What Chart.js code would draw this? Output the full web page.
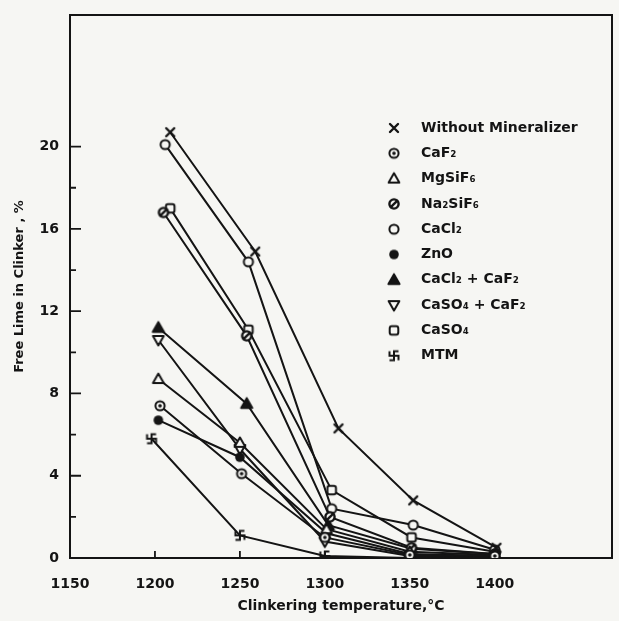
<!DOCTYPE html>
<html lang="en">
<head>
    <meta charset="UTF-8">
    <title>Free lime vs clinkering temperature</title>
    <script src="https://cdn.jsdelivr.net/npm/chart.js"></script>
    <style>
        body { margin: 0; background: #f6f6f3; }
    </style>
</head>
<body>
    <canvas id="limeChart" width="619" height="621"></canvas>

    <script>
        // values (temperature in C, free lime in %)
        const yTicks = [0, 4, 8, 12, 16, 20];
        const xTicks = [1150, 1200, 1250, 1300, 1350, 1400];

        const tWithout = [1209, 1259, 1308, 1352, 1401];
        const limeWithout = [20.7, 14.9, 6.3, 2.8, 0.5];

        const tCaF2 = [1203, 1251, 1300, 1350, 1400];
        const limeCaF2 = [7.4, 4.1, 1.0, 0.15, 0.1];

        const tMgSiF6 = [1202, 1250, 1301, 1350, 1400];
        const limeMgSiF6 = [8.7, 5.6, 1.4, 0.3, 0.15];

        const tNa2SiF6 = [1205, 1254, 1303, 1351, 1400];
        const limeNa2SiF6 = [16.8, 10.8, 2.0, 0.5, 0.2];

        const tCaCl2 = [1206, 1255, 1304, 1352, 1400];
        const limeCaCl2 = [20.1, 14.4, 2.4, 1.6, 0.4];

        const tZnO = [1202, 1250, 1301, 1350, 1400];
        const limeZnO = [6.7, 4.9, 1.2, 0.2, 0.1];

        const tCaCl2CaF2 = [1202, 1254, 1302, 1351, 1400];
        const limeCaCl2CaF2 = [11.2, 7.5, 1.6, 0.45, 0.2];

        const tCaSO4CaF2 = [1202, 1250, 1300, 1350, 1400];
        const limeCaSO4CaF2 = [10.6, 5.3, 0.8, 0.1, 0.05];

        const tCaSO4 = [1209, 1255, 1304, 1351, 1400];
        const limeCaSO4 = [17.0, 11.1, 3.3, 1.0, 0.3];

        const tMTM = [1198, 1250, 1300, 1350, 1400];
        const limeMTM = [5.8, 1.1, 0.1, 0.0, 0.0];

        const seriesNames = ['Without Mineralizer', 'CaF₂', 'MgSiF₆', 'Na₂SiF₆', 'CaCl₂', 'ZnO',
            'CaCl₂ + CaF₂', 'CaSO₄ + CaF₂', 'CaSO₄', 'MTM'];
        const seriesMarkers = ['cross', 'dotcircle', 'tri', 'slashcircle', 'circle', 'dot',
            'filltri', 'invtri', 'square', 'mtm'];
        const seriesTemps = [tWithout, tCaF2, tMgSiF6, tNa2SiF6, tCaCl2, tZnO, tCaCl2CaF2, tCaSO4CaF2, tCaSO4, tMTM];
        const seriesLime = [limeWithout, limeCaF2, limeMgSiF6, limeNa2SiF6, limeCaCl2, limeZnO,
            limeCaCl2CaF2, limeCaSO4CaF2, limeCaSO4, limeMTM];

        const ink = '#141414';
        const paper = '#f6f6f3';
        const font = 'DejaVu Sans';

        // small canvases used as point styles (and in the legend)
        const makeMarker = (kind) => {
            const c = document.createElement('canvas');
            c.width = 16; c.height = 16;
            const g = c.getContext('2d');
            g.translate(8, 8);
            g.strokeStyle = ink; g.fillStyle = paper; g.lineWidth = 2;
            g.lineCap = 'round'; g.lineJoin = 'round';
            const circle = (r) => { g.beginPath(); g.arc(0, 0, r, 0, Math.PI * 2); };
            const poly = (pts) => { g.beginPath(); pts.forEach((p, i) => i ? g.lineTo(p[0], p[1]) : g.moveTo(p[0], p[1])); g.closePath(); };
            switch (kind) {
                case 'cross':
                    g.lineWidth = 2.4;
                    g.beginPath(); g.moveTo(-4, -4); g.lineTo(4, 4); g.moveTo(4, -4); g.lineTo(-4, 4); g.stroke();
                    break;
                case 'dotcircle':
                    circle(4.6); g.fill(); g.stroke();
                    g.fillStyle = ink; circle(1.8); g.fill();
                    break;
                case 'slashcircle':
                    circle(4.6); g.fill(); g.lineWidth = 2.4; g.stroke();
                    g.beginPath(); g.moveTo(-3.2, 3.2); g.lineTo(3.2, -3.2); g.stroke();
                    break;
                case 'circle':
                    circle(4.6); g.fill(); g.stroke();
                    break;
                case 'dot':
                    g.fillStyle = ink; circle(4.8); g.fill();
                    break;
                case 'tri':
                    poly([[0, -5.4], [5.4, 4], [-5.4, 4]]); g.fill(); g.stroke();
                    break;
                case 'filltri':
                    g.fillStyle = ink; poly([[0, -5.6], [5.6, 4.2], [-5.6, 4.2]]); g.fill(); g.stroke();
                    break;
                case 'invtri':
                    poly([[0, 5.4], [5.4, -4], [-5.4, -4]]); g.fill(); g.stroke();
                    break;
                case 'square':
                    g.beginPath(); g.roundRect(-4.3, -4.3, 8.6, 8.6, 2.2); g.fill(); g.stroke();
                    break;
                case 'mtm':
                    g.lineWidth = 2; g.lineCap = 'butt';
                    g.beginPath();
                    g.moveTo(0, -4.5); g.lineTo(0, 4.5); g.moveTo(-4.5, 0); g.lineTo(4.5, 0);
                    g.moveTo(-1, -4.5); g.lineTo(4.5, -4.5);
                    g.moveTo(4.5, -1); g.lineTo(4.5, 4.5);
                    g.moveTo(1, 4.5); g.lineTo(-4.5, 4.5);
                    g.moveTo(-4.5, 1); g.lineTo(-4.5, -4.5);
                    g.stroke();
                    break;
            }
            return c;
        };

        const markerImages = seriesMarkers.map(makeMarker);

        const datasets = seriesNames.map((name, i) => ({
            label: name,
            data: seriesTemps[i].map((t, j) => ({ x: t, y: seriesLime[i][j] })),
            showLine: true,
            borderColor: ink,
            borderWidth: 2,
            pointStyle: markerImages[i],
            pointRadius: 5
        }));

        // frame, inward tick marks and the legend box
        const paperPlugin = {
            id: 'paperLook',
            beforeDatasetsDraw(chart) {
                const { ctx, chartArea: a, scales } = chart;
                ctx.save();
                ctx.strokeStyle = ink;
                ctx.lineWidth = 2;
                ctx.strokeRect(a.left, a.top, a.right - a.left, a.bottom - a.top);
                ctx.lineWidth = 1.8;
                ctx.beginPath();
                for (let v = 2; v <= 20; v += 2) {
                    const py = scales.y.getPixelForValue(v);
                    ctx.moveTo(a.left, py);
                    ctx.lineTo(a.left + (v % 4 === 0 ? 11 : 6), py);
                }
                xTicks.slice(1).forEach(v => {
                    const px = scales.x.getPixelForValue(v);
                    ctx.moveTo(px, a.bottom);
                    ctx.lineTo(px, a.bottom - 7);
                });
                ctx.stroke();
                ctx.restore();
            },
            afterDraw(chart) {
                const { ctx } = chart;
                const markerX = 394, textX = 421, firstRow = 128, rowStep = 25.3;
                ctx.save();
                ctx.fillStyle = ink;
                ctx.font = 'bold 14px ' + font;
                ctx.textBaseline = 'middle';
                seriesNames.forEach((name, i) => {
                    const y = firstRow + i * rowStep;
                    ctx.drawImage(markerImages[i], markerX - 8, y - 8);
                    ctx.fillText(name, textX, y);
                });
                ctx.restore();
            }
        };

        const ctx = document.getElementById('limeChart').getContext('2d');
        const chart = new Chart(ctx, {
            type: 'scatter',
            data: { datasets: datasets },
            plugins: [paperPlugin],
            options: {
                responsive: false,
                animation: false,
                layout: { padding: { top: 15, right: 6 } },
                plugins: {
                    legend: { display: false },
                    tooltip: { enabled: false }
                },
                scales: {
                    x: {
                        type: 'linear',
                        min: 1150,
                        max: 1469,
                        afterBuildTicks: s => { s.ticks = xTicks.map(v => ({ value: v })); },
                        afterFit: s => { s.height = 63; },
                        grid: { display: false },
                        border: { display: true, color: ink, width: 2 },
                        ticks: {
                            color: ink, padding: 10,
                            font: { family: font, size: 14, weight: 'bold' },
                            callback: v => String(v)
                        },
                        title: {
                            display: true,
                            text: 'Clinkering temperature,°C',
                            color: ink,
                            padding: { top: 4, bottom: 6 },
                            font: { family: font, size: 14, weight: 'bold' }
                        }
                    },
                    y: {
                        type: 'linear',
                        min: 0,
                        max: 26.4,
                        afterBuildTicks: s => { s.ticks = yTicks.map(v => ({ value: v })); },
                        afterFit: s => { s.width = 70; },
                        grid: { display: false },
                        border: { display: true, color: ink, width: 2 },
                        ticks: { color: ink, padding: 3, font: { family: font, size: 14, weight: 'bold' } },
                        title: {
                            display: true,
                            text: 'Free Lime in Clinker , %',
                            color: ink,
                            padding: { top: 12, bottom: 0 },
                            font: { family: font, size: 13, weight: 'bold' }
                        }
                    }
                }
            }
        });
    </script>
</body>
</html>
